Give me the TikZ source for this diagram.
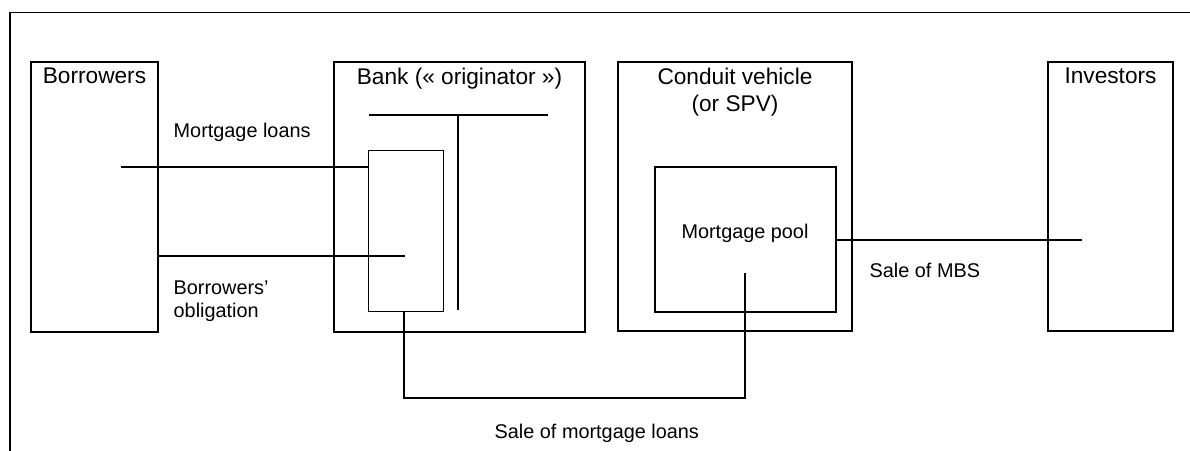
\documentclass[tikz,border=0pt]{standalone}
\usepackage{fontspec}
\setmainfont{Liberation Sans}
\tikzset{
  box/.style = {draw, inner sep=0pt},
  toplabel/.style = {anchor=north, inner sep=0.12cm, font=\fontsize{12.9}{15.3}\selectfont}
}
\tikzset{txt/.style = {inner sep=0pt, align=left}}

\begin{document}
\begin{tikzpicture}[x=0.02cm,y=-0.02cm,line width=0.8pt,font=\fontsize{11.3}{13.1}\selectfont]
  \useasboundingbox (0,0) rectangle (1190,450);
  \draw (10,455) -- (10,12.5) -- (1195,12.5);
  % the four parties
  \node (borrowers) at (94.5,197)  [box, minimum width=2.54cm, minimum height=5.4cm, label={[toplabel]north:Borrowers}] {};
  \node (bank)      at (459.5,197) [box, minimum width=5.02cm, minimum height=5.4cm, label={[toplabel]north:Bank (« originator »)}] {};
  \node (conduit)   at (735,196.5) [box, minimum width=4.68cm, minimum height=5.38cm, label={[toplabel,align=center]north:Conduit vehicle\\(or SPV)}] {};
  \node (investors) at (1110.5,196.5) [box, minimum width=2.5cm, minimum height=5.38cm, label={[toplabel]north:Investors}] {};
  % inside the bank and the conduit
  \node (loanbox) at (406,231)   [box, minimum width=1.51cm, minimum height=3.23cm] {};
  \node (pool)    at (745.5,239.5) [box, minimum width=3.62cm, minimum height=2.9cm] {};
  \node (pooltxt) at (745,238) [txt, anchor=base] {Mortgage pool};
  \coordinate (tleft) at (369,115);
  \coordinate (tright) at (548,115);
  \coordinate (tfoot) at (458,310);
  \draw (tleft) -- (tright);
  \draw (tfoot |- tleft) -- (tfoot);
  % flows
  \coordinate (loanstart) at (120.5,167);
  \coordinate (oblend) at (405,256);
  \coordinate (bend) at (745,398);
  \coordinate (poolin) at (745,273);
  \coordinate (mbsend) at (1082,240);
  \draw (loanstart) -- (loanstart -| loanbox.west);
  \draw (oblend -| borrowers.east) -- (oblend);
  \draw ([xshift=-0.04cm]loanbox.south) |- (bend) -- (poolin);
  \draw (mbsend -| pool.east) -- (mbsend);
  % labels
  \node (loanstxt) at (173,137) [txt, anchor=base west] {Mortgage loans};
  \node (obltxt)   at (173,280) [txt, anchor=north west] {Borrowers’\\obligation};
  \node (mbstxt)   at (869,277) [txt, anchor=base west] {Sale of MBS};
  \node (saletxt)  at (494,438) [txt, anchor=base west] {Sale of mortgage loans};
\end{tikzpicture}
\end{document}
